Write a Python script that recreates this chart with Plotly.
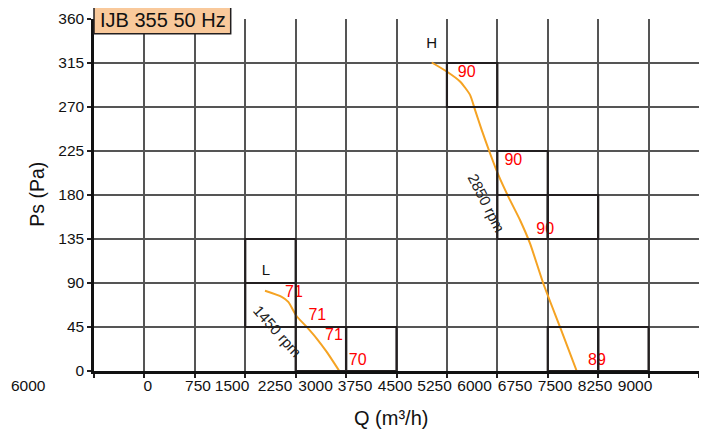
import plotly.graph_objects as go

# ---------------- data ----------------
x_tick_labels = ["0", "750", "1500", "2250", "3000", "3750", "4500",
                 "5250", "6000", "6750", "7500", "8250", "9000"]
stray_label = "6000"
y_tick_vals = [0, 45, 90, 135, 180, 225, 270, 315, 360]

# 1450 rpm curve (L)
l_q = [2544, 2792, 2890, 3015, 3164, 3313, 3462, 3649]
l_ps = [82.0, 75.8, 70.7, 56.0, 45.1, 33.2, 19.5, 0]

# 2850 rpm curve (H)
h_q = [5024, 5247, 5445, 5594, 5668, 5767, 5891, 6015, 6163, 6337, 6486, 6684, 6932, 7181]
h_ps = [315.5, 306.3, 296.1, 282.4, 267.1, 246.6, 222.7, 200.5, 178.3, 154.4, 130.5, 89.5, 45.1, 0]

# efficiency / noise marks
eff_text = ["71", "71", "71", "70", "90", "90", "90", "89"]
eff_q = [2975, 3322, 3570, 3923, 5544, 6238, 6712, 7483]
eff_ps = [79.6, 56.0, 35.5, 10.2, 304.7, 215.1, 143.9, 10.2]

# highlighted cells
box_q0 = [2250, 2250, 3000, 3750, 5250, 6000, 6000, 6750, 6750, 7500]
box_q1 = [3000, 3000, 3750, 4500, 6000, 6750, 6750, 7500, 7500, 8250]
box_ps0 = [90, 45, 0, 0, 270, 180, 135, 135, 0, 0]
box_ps1 = [135, 90, 45, 45, 315, 225, 180, 180, 45, 45]

speed_names = ["L", "H"]
speed_q = [2559, 5024]
speed_ps = [102.4, 333.7]

rpm_text = ["1450 rpm", "2850 rpm"]
rpm_q = [2737, 5846]
rpm_ps = [40.7, 171.8]

title_text = "IJB 355 50 Hz"

# ---------------- layout helpers ----------------
OFF = 8                      # default page body margin
W, H = 707 - OFF, 435 - OFF
PX_L, PX_R, PX_T, PX_B = 94, 699, 19.3, 370.7   # plot area in window pixels
L_M, T_M = PX_L - OFF, PX_T - OFF
R_M = W - (PX_R - OFF)
B_M = H - (PX_B - OFF)
plot_w = PX_R - PX_L
plot_h = PX_B - PX_T
X_MAX = 9000


def px_x(p):
    return (p - PX_L) / plot_w


def px_y(p):
    return (PX_B - p) / plot_h


# pixel centres of the (misplaced) x tick labels in the reference
label_px = [147.7, 198, 232, 275, 315.5, 355, 395, 434.5, 474.5, 515, 555, 595, 635]
label_pos = [px_x(p) * X_MAX for p in label_px]

ORANGE = "#F5A323"
DARK = "#231F20"
FONT = "Arial, 'Liberation Sans', sans-serif"

fig = go.Figure()

fig.add_trace(go.Scatter(x=l_q, y=l_ps, mode="lines", line=dict(color=ORANGE, width=2, shape="spline", smoothing=0.6),
                         hoverinfo="skip", showlegend=False))
fig.add_trace(go.Scatter(x=h_q, y=h_ps, mode="lines", line=dict(color=ORANGE, width=2, shape="spline", smoothing=0.6),
                         hoverinfo="skip", showlegend=False))
fig.add_trace(go.Scatter(x=eff_q, y=eff_ps, mode="text", text=eff_text, textposition="middle center",
                         textfont=dict(color="#FF0000", size=16, family=FONT), hoverinfo="skip", showlegend=False))
fig.add_trace(go.Scatter(x=speed_q, y=speed_ps, mode="text", text=speed_names, textposition="middle center",
                         textfont=dict(color="#111", size=15, family=FONT), hoverinfo="skip", showlegend=False))
# dummy trace to carry the label axis
fig.add_trace(go.Scatter(x=[0], y=[0], xaxis="x2", mode="markers", marker=dict(opacity=0),
                         hoverinfo="skip", showlegend=False))

shapes = []
for x0, x1, y0, y1 in zip(box_q0, box_q1, box_ps0, box_ps1):
    shapes.append(dict(type="rect", xref="x", yref="y", x0=x0, x1=x1, y0=y0, y1=y1,
                       line=dict(color=DARK, width=2.2), fillcolor="rgba(0,0,0,0)", layer="above"))
# title box
shapes.append(dict(type="rect", xref="paper", yref="paper", x0=0, x1=px_x(230.7),
                   y0=px_y(34), y1=px_y(5.3),
                   line=dict(color=DARK, width=1.5), fillcolor="#F9C99B", layer="above"))

annotations = []
for t, q, p, ang in zip(rpm_text, rpm_q, rpm_ps, [48, 63]):
    annotations.append(dict(x=q, y=p, xref="x", yref="y", text=t, showarrow=False, textangle=ang,
                            font=dict(size=15, color="#222", family=FONT)))
annotations.append(dict(x=px_x(163), y=px_y(19.8), xref="paper", yref="paper",
                        text=title_text, showarrow=False, font=dict(size=20, color="#111", family=FONT),
                        xanchor="center", yanchor="middle"))
annotations.append(dict(x=px_x(28), y=px_y(385), xref="paper", yref="paper",
                        text=stray_label, showarrow=False, font=dict(size=15.5, color="#111", family=FONT),
                        xanchor="center", yanchor="middle"))
annotations.append(dict(x=px_x(391), y=px_y(418), xref="paper", yref="paper",
                        text="Q (m³/h)", showarrow=False, font=dict(size=20, color="#111", family=FONT),
                        xanchor="center", yanchor="middle"))
annotations.append(dict(x=px_x(36.7), y=px_y(194), xref="paper", yref="paper",
                        text="Ps (Pa)", showarrow=False, textangle=-90, font=dict(size=19.5, color="#111", family=FONT),
                        xanchor="center", yanchor="middle"))

fig.update_layout(
    width=W, height=H,
    margin=dict(l=L_M, r=R_M, t=T_M, b=B_M, autoexpand=False),
    paper_bgcolor="white", plot_bgcolor="white",
    font=dict(family=FONT, color="#111"),
    showlegend=False,
    xaxis=dict(range=[0, X_MAX], tickmode="array", tickvals=[i * 750 for i in range(13)],
               showticklabels=False, ticks="outside", ticklen=4, tickcolor=DARK, tickwidth=1.5,
               showgrid=True, gridcolor="#555", gridwidth=1.5, zeroline=False, automargin=False,
               showline=True, linecolor="#111", linewidth=2.5),
    xaxis2=dict(range=[0, X_MAX], overlaying="x", side="bottom", anchor="y", tickmode="array",
                tickvals=label_pos, ticktext=x_tick_labels, ticks="", showgrid=False, zeroline=False,
                showline=False, automargin=False, ticklabelstandoff=3,
                tickfont=dict(size=15.5, family=FONT, color="#111")),
    yaxis=dict(range=[0, 360], tickmode="array", tickvals=y_tick_vals, ticks="outside", ticklen=4,
               tickcolor=DARK, tickwidth=1.5, tickfont=dict(size=15.5, family=FONT, color="#111"),
               showgrid=True, gridcolor="#555", gridwidth=1.5, zeroline=False, automargin=False,
               showline=True, linecolor="#111", linewidth=2.5),
    shapes=shapes,
    annotations=annotations,
)

fig.write_html("out.html")
